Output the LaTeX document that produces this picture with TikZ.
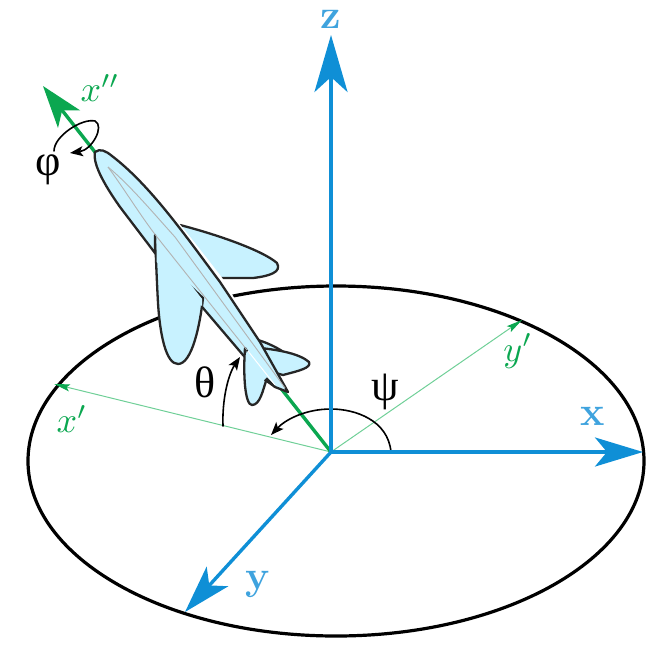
\documentclass[tikz,border=0pt]{standalone}
\usepackage{fontspec}
\newfontfamily\greekfont{Liberation Serif}
\usepackage{xcolor}
\usetikzlibrary{arrows.meta}
\definecolor{axisblue}{HTML}{0F8FD6}
\definecolor{labelblue}{HTML}{3FA3DE}
\definecolor{axisgreen}{HTML}{0BA750}
\definecolor{thingreen}{HTML}{6FCF97}
\definecolor{planeblue}{HTML}{C8F2FF}

\begin{document}
\begin{tikzpicture}[
  x=1pt, y=-1pt,
  axis/.style={axisblue, line width=3.4pt, -{Stealth[length=48pt,width=29pt,inset=12pt]}},
  roll/.style={axisgreen, line width=3.4pt, -{Stealth[length=42pt,width=28pt,inset=11pt]}},
  thin axis/.style={thingreen, line width=1pt, -{Stealth[length=16pt,width=7pt,inset=3pt,color=axisgreen]}},
  angle/.style={line width=1.6pt, line cap=round, -{Stealth[length=13pt,width=10pt,inset=3pt]}},
  hull/.style={draw=black!85, fill=planeblue, line width=2.3pt, line join=round},
  seam/.style={black!30, line width=0.9pt},
  blue lab/.style={labelblue, inner sep=0pt, font=\fontsize{41}{41}\selectfont\bfseries},
  green lab/.style={axisgreen, inner sep=0pt, scale=3.6},
  greek lab/.style={font=\fontsize{44}{44}\greekfont}
]
\useasboundingbox (0,0) rectangle (664,654);

\coordinate (origin) at (331,452);
\coordinate (ztip) at (331,35);
\coordinate (xtip) at (643,452);
\coordinate (ytip) at (185,612);
\coordinate (xxtip) at (43,86);
\coordinate (xptip) at (54,384);
\coordinate (yptip) at (522,320);

% ground plane
\draw[black, line width=3.2pt] (336,461) ellipse [x radius=308, y radius=175];

% thin projected axes
\draw[thin axis] (origin) -- (xptip);
\draw[thin axis] (origin) -- (yptip);

% roll axis, the plane sits on top of it
\draw[roll] (origin) -- (xxtip);

% far wing and tail
\draw[hull] (180,225) .. controls (215,234) and (262,250) .. (277,263)
  .. controls (282,272) and (270,276) .. (253,278) -- (220,278);
\draw[hull] (258,340) .. controls (268,343) and (278,348) .. (285,353) -- (290,362) -- (262,352) -- cycle;
\draw[hull] (260,348) .. controls (280,350) and (300,354) .. (309,362)
  .. controls (312,368) and (298,371) .. (283,375) -- (272,372) -- cycle;

% fuselage
\draw[white, line width=6pt] (107,153) .. controls (140,178) and (180,228) .. (220,280) -- (262,350);
\draw[hull] (95,152) .. controls (100,148) and (106,151) .. (112,156)
  .. controls (150,185) and (185,235) .. (220,282)
  -- (260,342) -- (288,392) -- (275,387)
  -- (243,355) -- (203,308) -- (155,253) -- (120,207)
  .. controls (108,190) and (92,165) .. (95,152) -- cycle;

% near wing and fin
\draw[hull] (155,235) .. controls (156,260) and (157,285) .. (158,303)
  .. controls (160,335) and (166,364) .. (178,364)
  .. controls (192,364) and (200,325) .. (203,298)
  -- (155,253) -- cycle;
\fill[planeblue] (156.5,240) -- (156.5,262) -- (202,306) -- (202,299) -- cycle;
\draw[hull] (245,348) .. controls (243,375) and (245,405) .. (252,405)
  .. controls (260,405) and (263,390) .. (266,381) -- (254,362) -- cycle;
\fill[planeblue] (246.5,351) -- (246.5,368) -- (262,382) -- (268,376) -- (250,353) -- cycle;
\draw[black!85, line width=2pt] (265,380) -- (275,387);

% seams along the fuselage
\draw[seam] (108,167) .. controls (125,190) and (140,215) .. (157,237) -- (247,350);
\draw[seam] (108,167) .. controls (130,185) and (155,215) .. (175,237) -- (285,388);
\draw[white, line width=1pt] (248,351) -- (275,385);

% angles
\draw[angle] (54,151) .. controls (54,136) and (82,118) .. (95,121)
  .. controls (105,126) and (92,150) .. (70,153);
\draw[angle] (223,426) .. controls (222,400) and (228,375) .. (240,357);
\draw[angle] (391,452) .. controls (388,420) and (355,409) .. (331,409)
  .. controls (305,409) and (285,420) .. (271,435);

% axes
\draw[axisblue, line width=3.6pt, -{Stealth[length=57pt,width=33pt,inset=15pt]}] (origin) -- (ztip);
\draw[axis] (origin) -- (xtip);
\draw[axis] (origin) -- (ytip);

% labels
\node[blue lab] (zlab) at (331,19) {z};
\node[blue lab] (xlab) at (593,416) {x};
\node[blue lab] (ylab) at (258,584) {y};
\node[green lab] (xxlab) at (100,88) {$x''$};
\node[green lab] (xplab) at (72,419) {$x'$};
\node[green lab] (yplab) at (518,351) {$y'$};
\node[greek lab] (philab) at (48,170) {φ};
\node[greek lab] (thetalab) at (205,382) {θ};
\node[greek lab] (psilab) at (385,392) {ψ};
\end{tikzpicture}
\end{document}
